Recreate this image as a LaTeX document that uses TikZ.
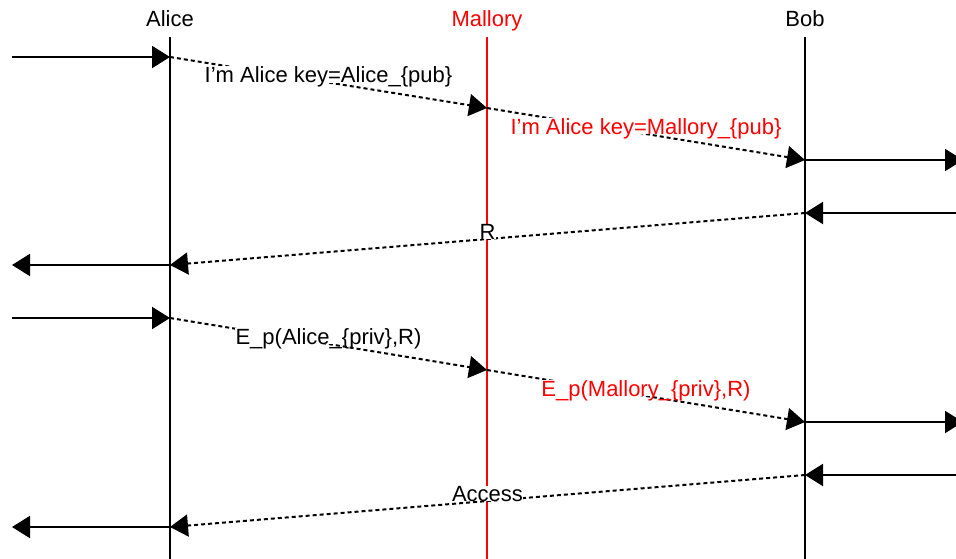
\documentclass[tikz,border=0pt]{standalone}
\usepackage{fontspec}
\setmainfont{Liberation Sans}
\usetikzlibrary{arrows.meta}
\definecolor{mred}{RGB}{255,0,0}
\begin{document}
\begin{tikzpicture}[x=1pt,y=-1pt,
  font=\fontsize{22}{26}\selectfont,
  tip/.style={-{Triangle[length=18pt,width=22pt]}},
  life/.style={line width=2pt},
  msg/.style={tip,line width=2pt,dash pattern=on 4pt off 3pt},
  ext/.style={tip,line width=2pt},
  lbl/.style={anchor=base,fill=white,inner sep=0.3pt,text depth=-2pt},
  head/.style={anchor=base,inner sep=0pt}]
\useasboundingbox (0,0) rectangle (956,558);
% headers
\node[head] (hA) at (170,26) {Alice};
\node[head,text=mred] (hM) at (487,26) {Mallory};
\node[head] (hB) at (805,26) {Bob};
% lifeline ends
\coordinate (At) at (170,37); \coordinate (Ab) at (170,560);
\coordinate (Mt) at (487,37); \coordinate (Mb) at (487,560);
\coordinate (Bt) at (805,37); \coordinate (Bb) at (805,560);
\draw[life] (At) -- (Ab);
\draw[life,mred] (Mt) -- (Mb);
\draw[life] (Bt) -- (Bb);
% points
\coordinate (a1) at (170,57);  \coordinate (a2) at (170,265);
\coordinate (a3) at (170,318); \coordinate (a4) at (170,527);
\coordinate (m1) at (487,108); \coordinate (m2) at (487,370);
\coordinate (b1) at (805,160); \coordinate (b2) at (805,213);
\coordinate (b3) at (805,422); \coordinate (b4) at (805,475);
\coordinate (l1) at (12,57);  \coordinate (l2) at (12,265);
\coordinate (l3) at (12,318); \coordinate (l4) at (12,527);
\coordinate (r1) at (963,160); \coordinate (r2) at (963,213);
\coordinate (r3) at (963,422); \coordinate (r4) at (963,475);
% messages
\draw[ext] (l1) -- (a1);
\draw[msg] (a1) -- node[lbl] (t1) {I’m Alice key=Alice\_\{pub\}} (m1);
\draw[msg] (m1) -- node[lbl,text=mred] (t2) {I’m Alice key=Mallory\_\{pub\}} (b1);
\draw[ext] (b1) -- (r1);
\draw[ext] (r2) -- (b2);
\draw[msg] (b2) -- node[lbl] (t3) {R} (a2);
\draw[ext] (a2) -- (l2);
\draw[ext] (l3) -- (a3);
\draw[msg] (a3) -- node[lbl] (t4) {E\_p(Alice\_\{priv\},R)} (m2);
\draw[msg] (m2) -- node[lbl,text=mred] (t5) {E\_p(Mallory\_\{priv\},R)} (b3);
\draw[ext] (b3) -- (r3);
\draw[ext] (r4) -- (b4);
\draw[msg] (b4) -- node[lbl] (t6) {Access} (a4);
\draw[ext] (a4) -- (l4);
\end{tikzpicture}
\end{document}
